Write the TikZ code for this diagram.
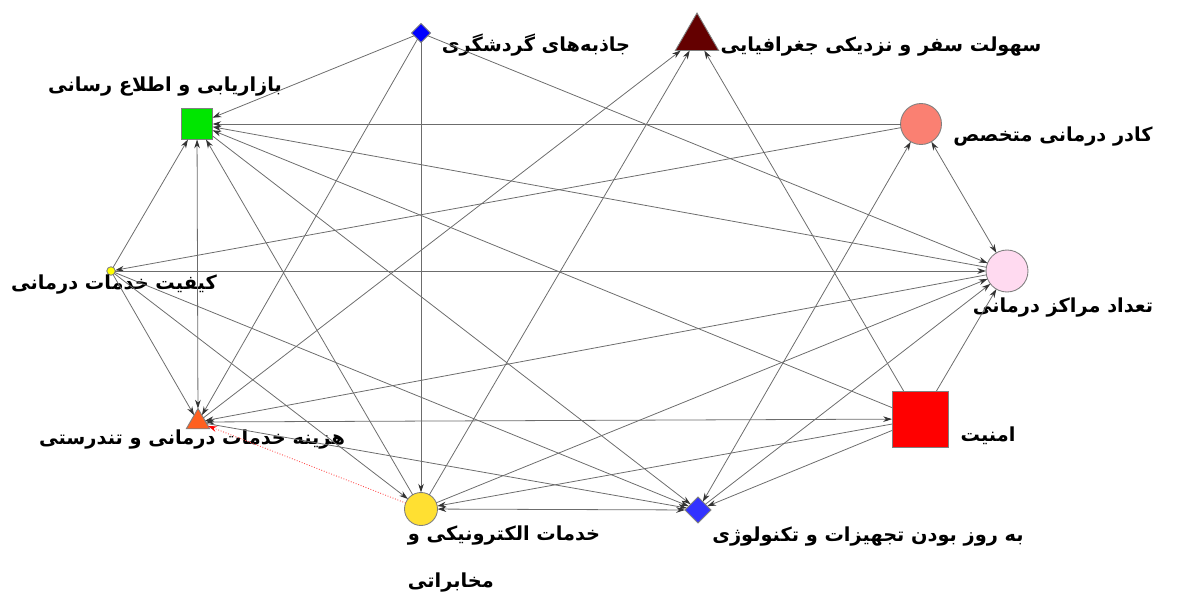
\documentclass[tikz,border=0pt]{standalone}
\usepackage{fontspec}
\newfontfamily\farsi[Script=Arabic]{DejaVu Sans}
\TeXXeTstate=1
\usetikzlibrary{shapes.geometric,arrows.meta}
\definecolor{tourblue}{RGB}{0,0,255}
\definecolor{travelred}{RGB}{100,0,0}
\definecolor{marketgreen}{RGB}{0,230,0}
\definecolor{staffred}{RGB}{250,128,114}
\definecolor{qualyellow}{RGB}{255,255,0}
\definecolor{centpink}{RGB}{255,218,240}
\definecolor{costorange}{RGB}{255,96,32}
\definecolor{safered}{RGB}{255,0,0}
\definecolor{telegold}{RGB}{255,224,50}
\definecolor{techblue}{RGB}{50,50,255}
\newcommand\fa[1]{\beginR #1\endR}
\tikzset{vx/.style={draw=gray,line width=0.5pt,inner sep=0pt,outer sep=0pt},
        circ/.style={vx,circle,minimum size=#1},
        sq/.style={vx,rectangle,minimum size=#1},
        dia/.style={vx,diamond,minimum size=#1},
        tri/.style={vx,regular polygon,regular polygon sides=3,minimum size=#1},
        lbl/.style={font=\farsi\bfseries\fontsize{11}{13}\selectfont,inner sep=0pt,text=black}
        }
\tikzstyle{arrow}  = [draw=gray!85!black,line width=0.45pt,-{Stealth[length=5pt,width=3.2pt,color=black!80]}]
\tikzstyle{arrows2} = [arrow,{Stealth[length=5pt,width=3.2pt,color=black!80]}-{Stealth[length=5pt,width=3.2pt,color=black!80]}]
\tikzstyle{redarrow} = [draw=red!70,line width=0.5pt,densely dotted,-{Stealth[length=5pt,width=3.2pt,color=red]}]

\begin{document}
\begin{tikzpicture}[x=0.02cm,y=-0.02cm]
	\useasboundingbox (0,0) rectangle (1183,595);

	% factors
	\node[dia=0.38cm,fill=tourblue] (tour) at (421,33) {};
	\node[tri=1.0cm,fill=travelred] (travel) at (697,38) {};
	\node[sq=0.62cm,fill=marketgreen] (market) at (197,124) {};
	\node[circ=0.82cm,fill=staffred] (staff) at (921,124) {};
	\node[circ=0.17cm,fill=qualyellow] (quality) at (111,271) {};
	\node[circ=0.84cm,fill=centpink] (centers) at (1007,271) {};
	\node[tri=0.54cm,fill=costorange] (cost) at (198,422) {};
	\node[sq=1.12cm,fill=safered] (safety) at (920,419) {};
	\node[circ=0.66cm,fill=telegold] (telecom) at (421,509) {};
	\node[dia=0.52cm,fill=techblue] (tech) at (698,510) {};

	% names
	\node[lbl] (tourL) at (536,45) {\fa{جاذبه‌های گردشگری}};
	\node[lbl] (travelL) at (881,47) {\fa{سهولت سفر و نزدیکی جغرافیایی}};
	\node[lbl] (marketL) at (165,87) {\fa{بازاریابی و اطلاع رسانی}};
	\node[lbl] (staffL) at (1053,137) {\fa{کادر درمانی متخصص}};
	\node[lbl] (qualityL) at (114,285) {\fa{کیفیت خدمات درمانی}};
	\node[lbl] (centersL) at (1063,308) {\fa{تعداد مراکز درمانی}};
	\node[lbl] (costL) at (192,440) {\fa{هزینه خدمات درمانی و تندرستی}};
	\node[lbl] (safetyL) at (988,436) {\fa{امنیت}};
	\node[lbl,align=left] (telecomL) at (504,559) {\fa{خدمات الکترونیکی و}\\[14pt]\fa{مخابراتی}};
	\node[lbl] (techL) at (868,537) {\fa{به روز بودن تجهیزات و تکنولوژی}};

	% influences
	\draw[arrow] (tour) -- (market);
	\draw[arrow] (tour) -- (cost);
	\draw[arrow] (tour) -- (telecom);
	\draw[arrow] (tour) -- (centers);
	\draw[arrow] (cost) -- (travel);
	\draw[arrow] (telecom) -- (travel);
	\draw[arrow] (safety) -- (travel);
	\draw[arrow] (staff) -- (market);
	\draw[arrow] (centers) -- (market);
	\draw[arrow] (safety) -- (market);
	\draw[arrow] (quality) -- (market);
	\draw[arrows2] (cost) -- (market);
	\draw[arrow] (telecom) -- (market);
	\draw[arrow] (market) -- (tech);
	\draw[arrow] (staff) -- (quality);
	\draw[arrow] (quality) -- (centers);
	\draw[arrow] (quality) -- (cost);
	\draw[arrow] (quality) -- (telecom);
	\draw[arrow] (quality) -- (tech);
	\draw[arrows2] (staff) -- (centers);
	\draw[arrows2] (tech) -- (staff);
	\draw[arrow] (centers) -- (cost);
	\draw[arrows2] (cost) -- (safety);
	\draw[redarrow] (telecom) -- (cost);
	\draw[arrow] (cost) -- (tech);
	\draw[arrow] (telecom) -- (centers);
	\draw[arrow] (tech) -- (centers);
	\draw[arrow] (safety) -- (centers);
	\draw[arrow] (safety) -- (telecom);
	\draw[arrows2] (tech) -- (telecom);
	\draw[arrow] (safety) -- (tech);
\end{tikzpicture}
\end{document}
